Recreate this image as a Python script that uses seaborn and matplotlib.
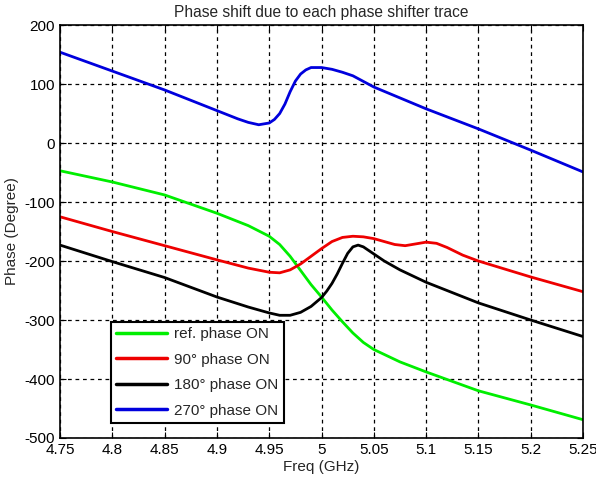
import matplotlib
matplotlib.use('Agg')
import matplotlib.pyplot as plt
import numpy as np
import pandas as pd
import seaborn as sns

# Values (Freq in GHz, phase in degrees)
freq_ref = [4.75, 4.8, 4.85, 4.9, 4.93, 4.95, 4.96, 4.97, 4.98, 4.99, 5.0, 5.01, 5.02,
            5.03, 5.04, 5.05, 5.075, 5.1, 5.15, 5.2, 5.25]
phase_ref = [-47, -66, -88, -119, -140, -158, -172, -192, -216, -240, -261, -283, -303,
             -322, -338, -350, -371, -388, -420, -444, -469]

freq_90 = [4.75, 4.8, 4.85, 4.9, 4.93, 4.95, 4.96, 4.97, 4.98, 4.99, 5.0, 5.01, 5.02,
           5.03, 5.04, 5.05, 5.06, 5.07, 5.08, 5.09, 5.1, 5.11, 5.12, 5.135, 5.15, 5.2, 5.25]
phase_90 = [-125, -150, -174, -198, -212, -219, -220, -215, -205, -192, -179, -167, -160,
            -158, -159, -162, -167, -172, -174, -171, -168, -170, -177, -190, -200, -227, -252]

freq_180 = [4.75, 4.8, 4.85, 4.9, 4.93, 4.95, 4.96, 4.97, 4.98, 4.99, 5.0, 5.005, 5.01,
            5.015, 5.02, 5.025, 5.03, 5.035, 5.04, 5.05, 5.06, 5.075, 5.1, 5.15, 5.2, 5.25]
phase_180 = [-173, -201, -228, -261, -278, -288, -292, -292, -287, -277, -262, -251, -238,
             -222, -204, -187, -176, -173, -176, -188, -200, -215, -236, -271, -300, -328]

freq_270 = [4.75, 4.8, 4.85, 4.9, 4.92, 4.93, 4.94, 4.95, 4.955, 4.96, 4.965, 4.97, 4.975,
            4.98, 4.985, 4.99, 5.0, 5.01, 5.02, 5.03, 5.05, 5.1, 5.15, 5.2, 5.25]
phase_270 = [154, 122, 90, 55, 41, 35, 31, 34, 40, 50, 66, 87, 105, 117, 124, 128, 128,
             125, 120, 114, 95, 58, 24, -12, -49]

labels = ['ref. phase ON', '90\u00b0 phase ON', '180\u00b0 phase ON', '270\u00b0 phase ON']
colors = ['#00ee00', '#ee0000', '#000000', '#0000dd']

frames = []
for lab, fx, py in zip(labels, [freq_ref, freq_90, freq_180, freq_270],
                       [phase_ref, phase_90, phase_180, phase_270]):
    frames.append(pd.DataFrame({'Freq': fx, 'Phase': py, 'trace': lab}))
df = pd.concat(frames, ignore_index=True)

sns.set_style('white')
plt.rcParams['font.family'] = ['Liberation Sans', 'DejaVu Sans']
plt.rcParams['axes.unicode_minus'] = False

fig = plt.figure(figsize=(5.96, 4.82), dpi=100)
ax = fig.add_axes([0.1007, 0.0913, 0.8775, 0.8567])

sns.lineplot(data=df, x='Freq', y='Phase', hue='trace', palette=colors,
             hue_order=labels, sort=True, estimator=None, linewidth=2, ax=ax)

ax.set_xlim(4.75, 5.25)
ax.set_ylim(-500, 200)
ax.set_xticks(np.arange(4.75, 5.2501, 0.05))
ax.set_xticklabels(['4.75', '4.8', '4.85', '4.9', '4.95', '5', '5.05', '5.1', '5.15', '5.2', '5.25'])
ax.set_yticks(np.arange(-500, 201, 100))
ax.grid(True, color='black', linestyle=(0, (3, 3)), linewidth=0.9)
for s in ax.spines.values():
    s.set_color('black')
    s.set_linewidth(1.2)
ax.tick_params(axis='both', labelsize=11, colors='black', direction='in', length=4,
               left=True, bottom=True, top=True, right=True)

ax.set_xlabel('Freq (GHz)', fontsize=11, labelpad=2)
ax.set_ylabel('Phase (Degree)', fontsize=11, labelpad=4)
ax.set_title('Phase shift due to each phase shifter trace', fontsize=11.2, pad=6)

leg = ax.legend(loc='lower left', bbox_to_anchor=(0.083, 0.018), fontsize=11,
                frameon=True, fancybox=False, framealpha=1, handlelength=3.3,
                borderpad=0.35, labelspacing=0.75, handletextpad=0.5)
leg.get_frame().set_edgecolor('black')
leg.get_frame().set_linewidth(1.5)
for line in leg.get_lines():
    line.set_linewidth(2.5)

fig.savefig('out.png', dpi=100)
